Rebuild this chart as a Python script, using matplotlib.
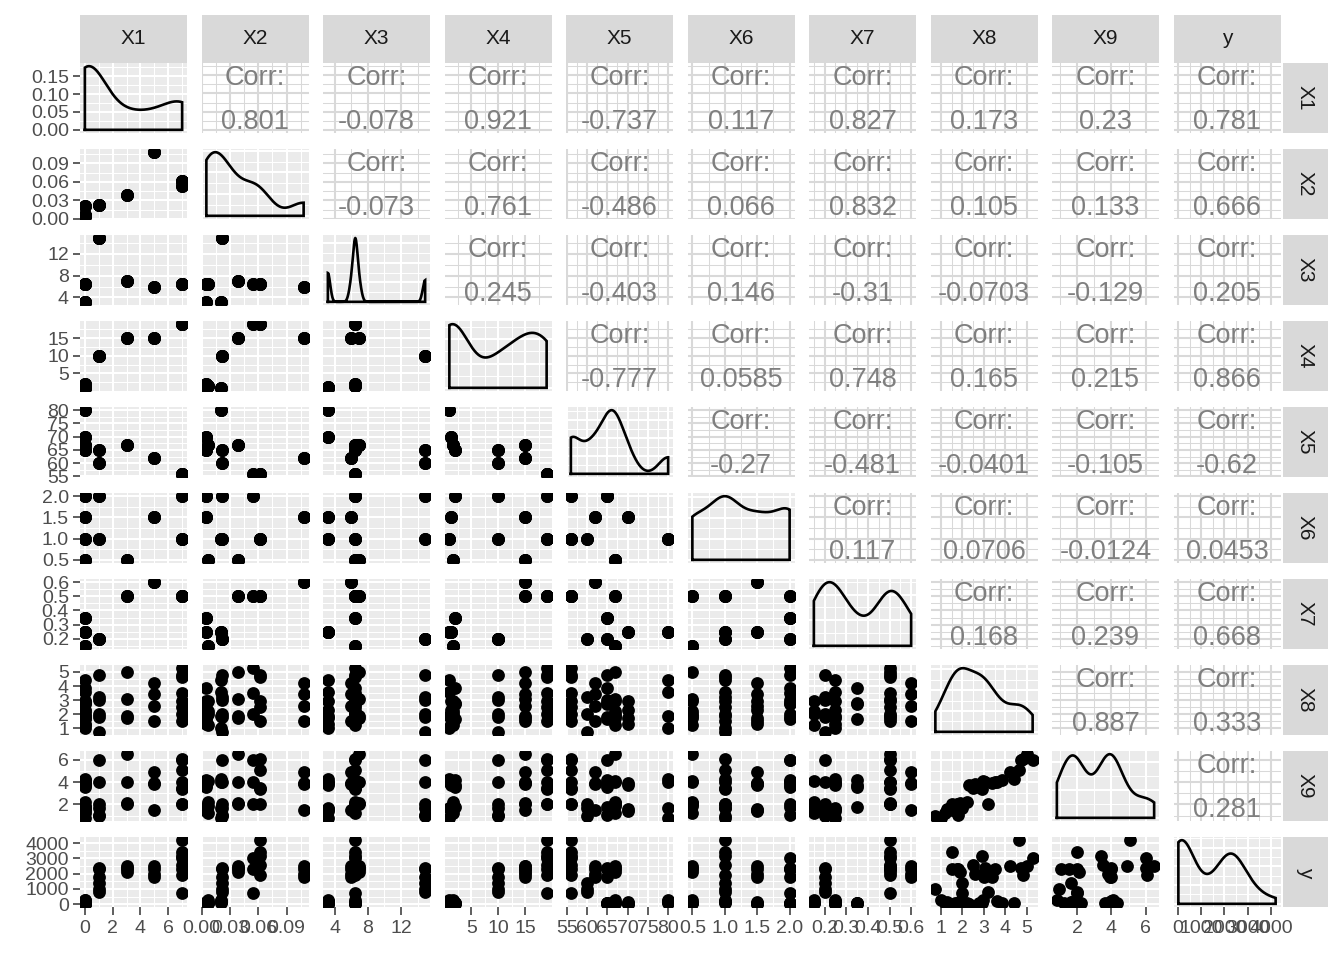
import numpy as np
import matplotlib
matplotlib.use("Agg")
import matplotlib.pyplot as plt
from matplotlib.ticker import MaxNLocator

plt.rcParams['font.family'] = ['Liberation Sans', 'DejaVu Sans']

# ---------------- data ----------------
names = ["X1", "X2", "X3", "X4", "X5", "X6", "X7", "X8", "X9", "y"]

X1 = [0, 0, 0, 0, 0, 0, 0, 0, 0, 0, 0, 0, 0, 0, 0, 0,
      1, 1, 1, 1, 1, 1, 3, 3, 3, 3, 5, 5, 5, 5, 7, 7, 7, 7, 7, 7, 7, 7]
X2 = [0.005, 0.005, 0.005, 0.005, 0.021, 0.005, 0.005, 0.005, 0.005,
      0.007, 0.007, 0.007, 0.007, 0.021, 0.021, 0.021,
      0.022, 0.022, 0.022, 0.022, 0.022, 0.022, 0.039, 0.039, 0.039, 0.039,
      0.108, 0.108, 0.108, 0.108, 0.054, 0.054, 0.054, 0.062, 0.062, 0.062, 0.062, 0.062]
X3 = [3.2, 3.2, 3.2, 3.2, 3.2, 6.5, 6.5, 6.5, 6.5, 6.5, 6.5, 6.5, 6.5, 3.2, 3.2, 3.2,
      14.9, 14.9, 14.9, 14.9, 14.9, 14.9, 7.0, 7.0, 7.0, 7.0, 6.0, 6.0, 6.0, 6.0,
      6.5, 6.5, 6.5, 6.5, 6.5, 6.5, 6.5, 6.5]
X4 = [1.2, 1.2, 1.2, 1.2, 0.9, 2.0, 2.0, 2.0, 2.0, 1.5, 1.5, 1.5, 1.5, 0.9, 0.9, 0.9,
      10, 10, 10, 10, 10, 10, 15, 15, 15, 15, 15, 15, 15, 15, 19, 19, 19, 19, 19, 19, 19, 19]
X5 = [70, 70, 70, 70, 80, 65, 65, 65, 65, 67, 67, 67, 67, 80, 80, 80,
      65, 65, 65, 60, 60, 60, 67, 67, 67, 67, 62, 62, 62, 62, 56, 56, 56, 56, 56, 56, 56, 56]
X6 = [1.5, 1.5, 1.5, 1.5, 1, 2, 2, 2, 2, 0.5, 0.5, 0.5, 0.5, 1, 1, 1,
      2, 2, 2, 1, 1, 1, 0.5, 0.5, 0.5, 0.5, 1.5, 1.5, 1.5, 1.5, 2, 2, 2, 1, 1, 1, 1, 1]
X7 = [0.25, 0.25, 0.25, 0.25, 0.25, 0.35, 0.35, 0.35, 0.35, 0.15, 0.15, 0.15, 0.15,
      0.25, 0.25, 0.25, 0.2, 0.2, 0.2, 0.2, 0.2, 0.2,
      0.5, 0.5, 0.5, 0.5, 0.6, 0.6, 0.6, 0.6, 0.5, 0.5, 0.5, 0.5, 0.5, 0.5, 0.5, 0.5]
X8 = [1.30, 2.30, 2.90, 1.70, 1.85, 1.65, 2.75, 3.85, 2.80, 2.00, 2.20, 2.95, 1.20, 4.40, 1.00, 3.60,
      1.80, 3.00, 4.75, 0.74, 2.00, 3.20, 5.00, 3.05, 1.90, 1.75, 4.20, 2.60, 1.50, 3.40,
      5.27, 3.50, 2.00, 2.90, 4.65, 4.80, 2.50, 1.50]
X9 = [1.60, 3.70, 3.90, 1.40, 1.70, 1.80, 3.60, 4.20, 3.70, 1.90, 2.20, 4.10, 1.20, 4.30, 0.80, 4.00,
      1.05, 4.00, 6.00, 0.94, 1.65, 2.00, 6.50, 4.00, 2.10, 2.00, 4.90, 3.80, 1.50, 3.90,
      6.00, 4.00, 2.00, 3.40, 5.10, 6.10, 3.50, 2.00]
y = [130, 40, 60, 20, 150, 60, 50, 80, 40, 60, 100, 300, 70, 60, 250, 200,
     2300, 1750, 2400, 1000, 1400, 780, 2500, 2400, 2100, 2300, 2500, 2000, 2300, 1800,
     3000, 2300, 700, 3150, 4200, 1900, 2600, 3400]

columns = [X1, X2, X3, X4, X5, X6, X7, X8, X9, y]

# axis breaks (tick labels) of each variable
breaks = [
    [0, 2, 4, 6],
    [0.00, 0.03, 0.06, 0.09],
    [4, 8, 12],
    [5, 10, 15],
    [55, 60, 65, 70, 75, 80],
    [0.5, 1.0, 1.5, 2.0],
    [0.2, 0.3, 0.4, 0.5, 0.6],
    [1, 2, 3, 4, 5],
    [2, 4, 6],
    [0, 1000, 2000, 3000, 4000],
]
break_labels = [
    ["0", "2", "4", "6"],
    ["0.00", "0.03", "0.06", "0.09"],
    ["4", "8", "12"],
    ["5", "10", "15"],
    ["55", "60", "65", "70", "75", "80"],
    ["0.5", "1.0", "1.5", "2.0"],
    ["0.2", "0.3", "0.4", "0.5", "0.6"],
    ["1", "2", "3", "4", "5"],
    ["2", "4", "6"],
    ["0", "1000", "2000", "3000", "4000"],
]

# correlation labels shown in the upper triangle (row by row)
corr_labels = [
    ["0.801", "-0.078", "0.921", "-0.737", "0.117", "0.827", "0.173", "0.23", "0.781"],
    ["-0.073", "0.761", "-0.486", "0.066", "0.832", "0.105", "0.133", "0.666"],
    ["0.245", "-0.403", "0.146", "-0.31", "-0.0703", "-0.129", "0.205"],
    ["-0.777", "0.0585", "0.748", "0.165", "0.215", "0.866"],
    ["-0.27", "-0.481", "-0.0401", "-0.105", "-0.62"],
    ["0.117", "0.0706", "-0.0124", "0.0453"],
    ["0.168", "0.239", "0.668"],
    ["0.887", "0.333"],
    ["0.281"],
]

# ---------------- style ----------------
W, H = 1344, 960
BG = "#EBEBEB"
STRIP = "#D9D9D9"
CORR_GRID = "#D9D9D9"
AXTXT = "#4D4D4D"
MAJ_LW = 1.5
MIN_LW = 0.75
TICK_FS = 14
STRIP_FS = 15
CORR_FS = 19.5

col_left0, col_step, col_w = 80.0, 121.5, 107.0
row_top0, row_step, row_h = 63.0, 86.0, 70.0

fig = plt.figure(figsize=(W / 100, H / 100), dpi=100)


def px_axes(x0, ytop, w, h):
    return fig.add_axes([x0 / W, 1 - (ytop + h) / H, w / W, h / H])


def limits(v):
    v = np.asarray(v, float)
    lo, hi = v.min(), v.max()
    r = hi - lo
    return lo - 0.05 * r, hi + 0.05 * r


def minor_of(b, lim):
    b = list(b)
    step = b[1] - b[0]
    ext = [b[0] - step] + b + [b[-1] + step]
    mins = [(ext[k] + ext[k + 1]) / 2 for k in range(len(ext) - 1)]
    return [m for m in mins if lim[0] <= m <= lim[1]]


def in_lim(b, lim):
    return [v for v in b if lim[0] - 1e-12 <= v <= lim[1] + 1e-12]


def kde(v):
    v = np.asarray(v, float)
    n = len(v)
    sd = v.std(ddof=1)
    q75, q25 = np.percentile(v, [75, 25])
    lo = min(sd, (q75 - q25) / 1.34)
    if lo <= 0:
        lo = sd
    bw = 0.9 * lo * n ** (-0.2)
    xs = np.linspace(v.min(), v.max(), 512)
    d = np.exp(-0.5 * ((xs[:, None] - v[None, :]) / bw) ** 2).sum(1) / (n * bw * np.sqrt(2 * np.pi))
    return xs, d


def set_grid(ax, xb, xlim, yb, ylim, color, bgcolor):
    ax.set_facecolor(bgcolor)
    ax.set_xlim(xlim)
    ax.set_ylim(ylim)
    for m in minor_of(xb, xlim):
        ax.axvline(m, color=color, lw=MIN_LW, zorder=0)
    for m in minor_of(yb, ylim):
        ax.axhline(m, color=color, lw=MIN_LW, zorder=0)
    for m in in_lim(xb, xlim):
        ax.axvline(m, color=color, lw=MAJ_LW, zorder=0)
    for m in in_lim(yb, ylim):
        ax.axhline(m, color=color, lw=MAJ_LW, zorder=0)
    for s in ax.spines.values():
        s.set_visible(False)
    ax.set_xticks([])
    ax.set_yticks([])


nv = len(names)
lims = [limits(c) for c in columns]

for i in range(nv):
    for j in range(nv):
        x0 = col_left0 + col_step * j
        yt = row_top0 + row_step * i
        ax = px_axes(x0, yt, col_w, row_h)
        if i > j:
            set_grid(ax, breaks[j], lims[j], breaks[i], lims[i], "white", BG)
            ax.scatter(columns[j], columns[i], s=85, color="black", linewidths=0, zorder=3)
            ylab_b, ylab_t = breaks[i], break_labels[i]
        elif i == j:
            xs, d = kde(columns[i])
            dmax = d.max()
            dlim = (-0.05 * dmax, 1.05 * dmax)
            db = list(MaxNLocator(nbins=4, steps=[1, 2, 2.5, 5, 10]).tick_values(0, dmax))
            set_grid(ax, breaks[j], lims[j], db, dlim, "white", BG)
            px = np.concatenate([[xs[0]], xs, [xs[-1], xs[0]]])
            py = np.concatenate([[0], d, [0, 0]])
            ax.plot(px, py, color="black", lw=1.9, zorder=3, solid_joinstyle="miter")
            ylab_b = in_lim(db, dlim)
            ylab_t = ["%.2f" % v for v in ylab_b]
        else:
            set_grid(ax, breaks[j], lims[j], breaks[i], lims[i], CORR_GRID, "white")
            ax.text(0.5, 0.78, "Corr:", transform=ax.transAxes, ha="center", va="center",
                    fontsize=CORR_FS, color="#7F7F7F", zorder=4)
            ax.text(0.5, 0.16, corr_labels[i][j - i - 1], transform=ax.transAxes, ha="center",
                    va="center", fontsize=CORR_FS, color="#7F7F7F", zorder=4)
            ylab_b, ylab_t = breaks[i], break_labels[i]

        # left axis
        if j == 0:
            pos = [(b, t) for b, t in zip(ylab_b, ylab_t) if ax.get_ylim()[0] <= b <= ax.get_ylim()[1]]
            ax.set_yticks([p[0] for p in pos])
            ax.set_yticklabels([p[1] for p in pos])
            ax.tick_params(axis="y", length=5, width=1.1, color="#333333", labelsize=TICK_FS,
                           labelcolor=AXTXT, pad=3)
        # bottom axis
        if i == nv - 1:
            pos = [(b, t) for b, t in zip(breaks[j], break_labels[j]) if lims[j][0] <= b <= lims[j][1]]
            ax.set_xticks([p[0] for p in pos])
            ax.set_xticklabels([p[1] for p in pos])
            ax.tick_params(axis="x", length=5.5, width=1.1, color="#333333", labelsize=TICK_FS,
                           labelcolor=AXTXT, pad=4)

# top strips
for j in range(nv):
    x0 = col_left0 + col_step * j
    sax = px_axes(x0, 15, col_w, 48)
    sax.set_facecolor(STRIP)
    sax.set_xticks([])
    sax.set_yticks([])
    for s in sax.spines.values():
        s.set_visible(False)
    sax.text(0.5, 0.5, names[j], ha="center", va="center", fontsize=STRIP_FS, color="#1A1A1A",
             transform=sax.transAxes)

# right strips
for i in range(nv):
    yt = row_top0 + row_step * i
    sax = px_axes(1283, yt, 45, row_h)
    sax.set_facecolor(STRIP)
    sax.set_xticks([])
    sax.set_yticks([])
    for s in sax.spines.values():
        s.set_visible(False)
    sax.text(0.5, 0.5, names[i], ha="center", va="center", fontsize=STRIP_FS, color="#1A1A1A",
             rotation=-90, transform=sax.transAxes)

fig.savefig("out.png", dpi=100, facecolor="white")
